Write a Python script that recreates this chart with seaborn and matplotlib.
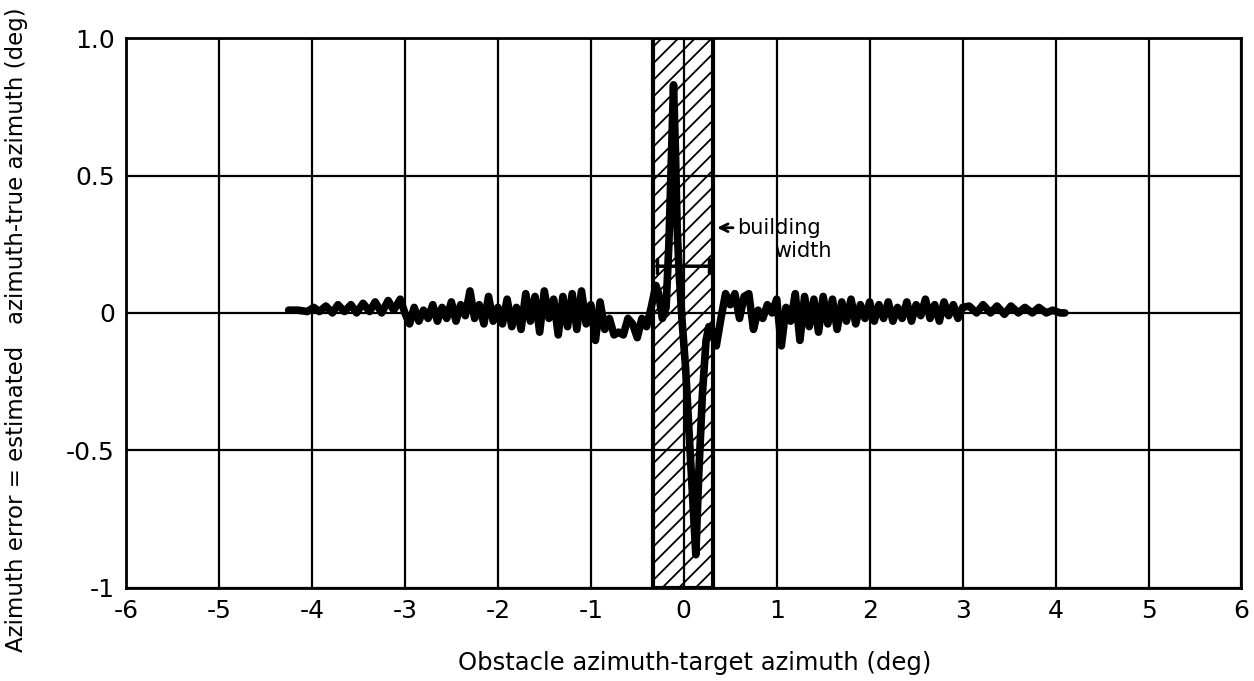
import numpy as np
import pandas as pd
import matplotlib
matplotlib.use('Agg')
import matplotlib.pyplot as plt
import seaborn as sns

#------------ Data ------------#
x_vals = [-4.25, -4.15, -4.05, -3.98, -3.92, -3.85, -3.78, -3.72, -3.65, -3.58,
          -3.52, -3.45, -3.38, -3.32, -3.25, -3.18, -3.12, -3.05, -3.0,
          -2.95, -2.9, -2.85, -2.8, -2.75, -2.7, -2.65, -2.6, -2.55, -2.5,
          -2.45, -2.4, -2.35, -2.3, -2.25, -2.2, -2.15, -2.1, -2.05, -2.0,
          -1.95, -1.9, -1.85, -1.8, -1.75, -1.7, -1.65, -1.6, -1.55, -1.5,
          -1.45, -1.4, -1.35, -1.3, -1.25, -1.2, -1.15, -1.1, -1.05, -1.0,
          -0.95, -0.9, -0.85, -0.8, -0.75, -0.7, -0.65, -0.6, -0.55, -0.5,
          -0.45, -0.4, -0.35, -0.3,
          -0.27, -0.23, -0.19, -0.16, -0.13, -0.11, -0.09, -0.07, -0.05, -0.02,
          0.02, 0.06, 0.1, 0.13, 0.16, 0.2, 0.24, 0.27, 0.3,
          0.35, 0.4, 0.45, 0.5, 0.55, 0.6, 0.65, 0.7, 0.75, 0.8,
          0.85, 0.9, 0.95, 1.0,
          1.05, 1.1, 1.15, 1.2, 1.25, 1.3, 1.35, 1.4, 1.45, 1.5,
          1.55, 1.6, 1.65, 1.7, 1.75, 1.8, 1.85, 1.9, 1.95, 2.0,
          2.05, 2.1, 2.15, 2.2, 2.25, 2.3, 2.35, 2.4, 2.45, 2.5,
          2.55, 2.6, 2.65, 2.7, 2.75, 2.8, 2.85, 2.9, 2.95, 3.0,
          3.07, 3.15, 3.22, 3.3, 3.37, 3.45, 3.52, 3.6, 3.67, 3.75,
          3.82, 3.9, 3.97, 4.05, 4.1]

err_vals = [0.01, 0.01, 0.005, 0.02, 0.005, 0.025, 0.0, 0.03, 0.005, 0.03,
            0.0, 0.035, 0.005, 0.04, 0.0, 0.045, 0.01, 0.05, 0.0,
            -0.04, 0.02, -0.03, 0.01, -0.02, 0.03, -0.03, 0.02, -0.02, 0.04,
            -0.03, 0.03, -0.01, 0.08, -0.02, 0.03, -0.04, 0.06, -0.03, 0.02,
            -0.04, 0.05, -0.05, 0.02, -0.06, 0.07, -0.03, 0.06, -0.07, 0.08,
            -0.02, 0.05, -0.08, 0.06, -0.05, 0.07, -0.06, 0.08, -0.04, 0.03,
            -0.1, 0.04, -0.06, -0.02, -0.08, -0.07, -0.08, -0.02, -0.04, -0.09,
            -0.02, -0.05, 0.02, 0.1,
            0.07, -0.02, 0.02, 0.25, 0.6, 0.83, 0.6, 0.3, 0.15, -0.02,
            -0.2, -0.45, -0.7, -0.88, -0.6, -0.3, -0.1, -0.05, -0.06,
            -0.12, -0.02, 0.07, 0.03, 0.07, -0.02, 0.06, 0.07, -0.06, 0.01,
            -0.02, 0.03, 0.0, 0.05,
            -0.12, 0.02, -0.03, 0.07, -0.1, 0.06, -0.05, 0.05, -0.07, 0.06,
            -0.04, 0.05, -0.06, 0.04, -0.03, 0.05, -0.04, 0.03, -0.02, 0.04,
            -0.03, 0.03, -0.02, 0.04, -0.03, 0.02, -0.02, 0.04, -0.03, 0.03,
            -0.01, 0.05, -0.02, 0.03, -0.03, 0.04, -0.01, 0.03, -0.02, 0.02,
            0.025, 0.0, 0.03, 0.0, 0.025, -0.005, 0.025, 0.0, 0.02, 0.0,
            0.02, 0.0, 0.01, 0.0, 0.0]

building_left = -0.33
building_right = 0.31
width_level = 0.17

x_ticks = [-6, -5, -4, -3, -2, -1, 0, 1, 2, 3, 4, 5, 6]
y_ticks = [-1, -0.5, 0, 0.5, 1.0]
y_tick_labels = ['-1', '-0.5', '0', '0.5', '1.0']

df = pd.DataFrame({'x': x_vals, 'err': err_vals})

sns.set_style('white')
plt.rcParams['font.family'] = ['DejaVu Sans']
plt.rcParams['text.color'] = 'black'
plt.rcParams['xtick.color'] = 'black'
plt.rcParams['ytick.color'] = 'black'
plt.rcParams['axes.labelcolor'] = 'black'
plt.rcParams['hatch.linewidth'] = 1.3

fig = plt.figure(figsize=(12.54, 6.81), dpi=100)
ax = fig.add_axes([0.1005, 0.137, 0.8895, 0.807])

# grid
for xt in x_ticks:
    ax.axvline(xt, color='black', lw=1.6, zorder=1)
for yt in y_ticks:
    ax.axhline(yt, color='black', lw=1.6, zorder=1)

# hatched building region
ax.axvspan(building_left, building_right, facecolor='none', edgecolor='black',
           hatch='//', lw=3, zorder=2)

sns.lineplot(data=df, x='x', y='err', sort=False, estimator=None,
             color='black', lw=5.5, ax=ax, zorder=3,
             solid_joinstyle='round', solid_capstyle='round')

# building width dimension line
ax.annotate('', xy=(building_left + 0.01, width_level),
            xytext=(building_right - 0.01, width_level),
            arrowprops=dict(arrowstyle='|-|', lw=2.5, color='black',
                            mutation_scale=5), zorder=4)

# label arrow
ax.annotate('', xy=(building_right + 0.02, 0.31), xytext=(0.56, 0.31),
            arrowprops=dict(arrowstyle='->', lw=2, color='black',
                            mutation_scale=14))
ax.text(0.57, 0.31, 'building', fontsize=15, va='center', ha='left')
ax.text(0.97, 0.225, 'width', fontsize=15, va='center', ha='left')

ax.set_xlim(-6, 6)
ax.set_ylim(-1, 1)
ax.set_xticks(x_ticks)
ax.set_xticklabels([str(t) for t in x_ticks])
ax.set_yticks(y_ticks)
ax.set_yticklabels(y_tick_labels)
ax.tick_params(axis='both', length=0, labelsize=18, pad=8)

for s in ax.spines.values():
    s.set_color('black')
    s.set_linewidth(2)

ax.set_xlabel('Obstacle azimuth-target azimuth (deg)', fontsize=17.5)
ax.set_ylabel('Azimuth error = estimated   azimuth-true azimuth (deg)', fontsize=16.5)
ax.xaxis.set_label_coords(0.51, -0.115)
ax.yaxis.set_label_coords(-0.088, 0.47)

plt.savefig('out.png', dpi=100)
